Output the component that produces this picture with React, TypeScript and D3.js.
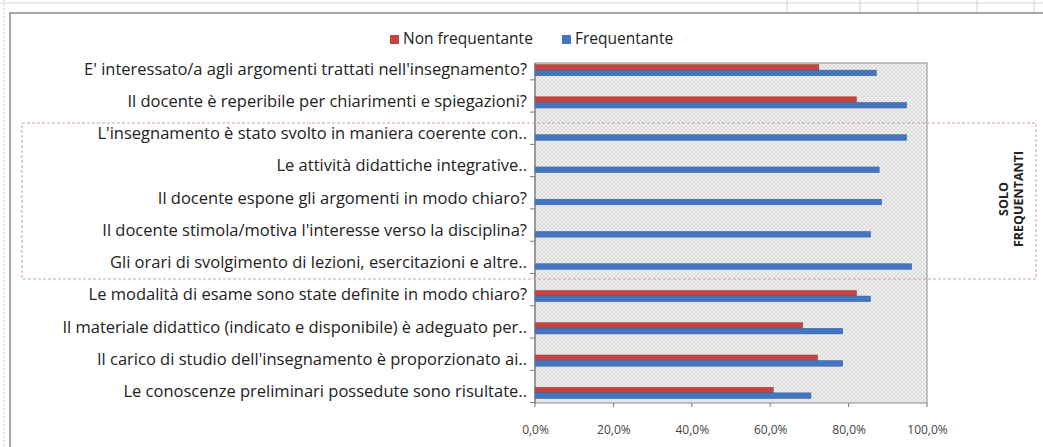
import { useEffect, useRef } from "react";
import * as d3 from "d3";

const categories = [
  "E' interessato/a agli argomenti trattati nell'insegnamento?",
  "Il docente è reperibile per chiarimenti e spiegazioni?",
  "L'insegnamento è stato svolto in maniera coerente con..",
  "Le attività didattiche integrative..",
  "Il docente espone gli argomenti in modo chiaro?",
  "Il docente stimola/motiva l'interesse verso la disciplina?",
  "Gli orari di svolgimento di lezioni, esercitazioni e altre..",
  "Le modalità di esame sono state definite in modo chiaro?",
  "Il materiale didattico (indicato e disponibile) è adeguato per..",
  "Il carico di studio dell'insegnamento è proporzionato ai..",
  "Le conoscenze preliminari possedute sono risultate..",
];

const seriesNames = ["Non frequentante", "Frequentante"];
const nonFrequentante = [72.4, 82.0, null, null, null, null, null, 82.0, 68.3, 72.1, 60.8];
const frequentante = [87.1, 94.8, 94.8, 87.8, 88.4, 85.6, 96.1, 85.6, 78.5, 78.5, 70.4];
const xTicks = [0, 20, 40, 60, 80, 100];
const boxLabel = ["SOLO", "FREQUENTANTI"];

const RED = "#c4443f";
const BLUE = "#4476c0";
const FONT = "'Open Sans', 'DejaVu Sans', sans-serif";

export default function App() {
  const ref = useRef<SVGSVGElement>(null);

  useEffect(() => {
    const svg = d3.select(ref.current);
    svg.selectAll("*").remove();

    const W = 1043, H = 447;
    const plot = { left: 535, right: 927, top: 63, bottom: 403 };

    // spreadsheet background
    svg.append("rect").attr("width", W).attr("height", H).attr("fill", "#fff");
    svg.append("line").attr("x1", 0).attr("x2", W).attr("y1", 3).attr("y2", 3)
      .attr("stroke", "#d4d4d4");
    [787, 860, 918, 977, 1034].forEach((x) => {
      svg.append("line").attr("x1", x).attr("x2", x).attr("y1", 0).attr("y2", 12)
        .attr("stroke", "#d0d0d0");
    });
    svg.append("line").attr("x1", 4).attr("x2", 4).attr("y1", 0).attr("y2", H)
      .attr("stroke", "#c8c8c8").attr("stroke-dasharray", "2,2");

    // chart border
    svg.append("rect").attr("x", 10).attr("y", 13).attr("width", W).attr("height", H)
      .attr("fill", "#fff").attr("stroke", "#8a8a8a").attr("stroke-width", 1.5);

    // pattern for plot area
    const defs = svg.append("defs");
    const pat = defs.append("pattern").attr("id", "hatch")
      .attr("width", 4).attr("height", 4).attr("patternUnits", "userSpaceOnUse");
    pat.append("rect").attr("width", 4).attr("height", 4).attr("fill", "#f0f0f0");
    pat.append("path").attr("d", "M0,0 L4,4 M4,0 L0,4").attr("stroke", "#d6d6d6").attr("stroke-width", 0.8);

    const x = d3.scaleLinear().domain([0, 100]).range([plot.left, plot.right]);
    const y = d3.scaleBand().domain(categories).range([54, 409]);
    const barH = 5.6;

    svg.append("rect")
      .attr("x", plot.left).attr("y", plot.top)
      .attr("width", plot.right - plot.left).attr("height", plot.bottom - plot.top)
      .attr("fill", "url(#hatch)").attr("stroke", "#8c8c8c");

    // legend
    const legend = svg.append("g").style("font-family", FONT).style("font-size", "15.5px");
    [[390, RED], [562, BLUE]].forEach(([lx, c], i) => {
      legend.append("rect").attr("x", lx as number).attr("y", 35).attr("width", 9).attr("height", 9)
        .attr("fill", c as string);
      legend.append("text").attr("x", (lx as number) + 13).attr("y", 40)
        .attr("dominant-baseline", "middle").attr("fill", "#222").text(seriesNames[i]);
    });

    // bars
    const center = (c: string) => (y(c) as number) + y.bandwidth() / 2;
    svg.append("g").selectAll("rect.red")
      .data(categories.map((c, i) => ({ c, v: nonFrequentante[i] })).filter((d) => d.v !== null))
      .enter().append("rect")
      .attr("x", x(0)).attr("y", (d) => center(d.c) - barH)
      .attr("width", (d) => x(d.v as number) - x(0)).attr("height", barH)
      .attr("fill", RED).attr("stroke", "#a8302c").attr("stroke-width", 0.5);

    svg.append("g").selectAll("rect.blue")
      .data(categories.map((c, i) => ({ c, v: frequentante[i] })))
      .enter().append("rect")
      .attr("x", x(0)).attr("y", (d) => center(d.c))
      .attr("width", (d) => x(d.v) - x(0)).attr("height", barH)
      .attr("fill", BLUE).attr("stroke", "#2f5c9e").attr("stroke-width", 0.5);

    // category axis
    svg.append("line").attr("x1", plot.left).attr("x2", plot.left)
      .attr("y1", plot.top).attr("y2", plot.bottom).attr("stroke", "#777");
    categories.forEach((c) => {
      const yy = (y(c) as number) + y.bandwidth() * 0.8;
      svg.append("line").attr("x1", plot.left - 5).attr("x2", plot.left)
        .attr("y1", yy).attr("y2", yy).attr("stroke", "#777");
    });
    svg.append("g").selectAll("text").data(categories).enter().append("text")
      .attr("x", 527).attr("y", (d) => center(d))
      .attr("text-anchor", "end").attr("dominant-baseline", "middle")
      .style("font-family", FONT).style("font-size", "16.5px").attr("fill", "#222")
      .text((d) => d);

    // value axis
    const xAxis = d3.axisBottom(x).tickValues(xTicks).tickSize(0).tickPadding(22)
      .tickFormat((d) => (d as number).toFixed(1).replace(".", ",") + "%");
    const gx = svg.append("g").attr("transform", `translate(0,${plot.bottom})`).call(xAxis);
    gx.select(".domain").remove();
    gx.selectAll("text").style("font-family", FONT).style("font-size", "12px").attr("fill", "#444");
    xTicks.forEach((t) => {
      svg.append("line").attr("x1", x(t)).attr("x2", x(t)).attr("y1", plot.bottom)
        .attr("y2", plot.bottom + 4).attr("stroke", "#777");
    });

    // SOLO FREQUENTANTI box
    svg.append("rect").attr("x", 22).attr("y", 123).attr("width", 1014).attr("height", 156)
      .attr("fill", "none").attr("stroke", "#c9a3ad").attr("stroke-dasharray", "3,2");
    const lab = svg.append("text")
      .attr("transform", "translate(1010,199) rotate(-90)")
      .attr("text-anchor", "middle")
      .style("font-family", FONT).style("font-size", "12.5px").style("font-weight", 700)
      .attr("fill", "#222");
    boxLabel.forEach((t, i) => {
      lab.append("tspan").attr("x", 0).attr("dy", i === 0 ? -2 : 15).text(t);
    });
  }, []);

  return (
    <svg ref={ref} width={1043} height={447}
      style={{ position: "absolute", left: 0, top: 0 }} />
  );
}
